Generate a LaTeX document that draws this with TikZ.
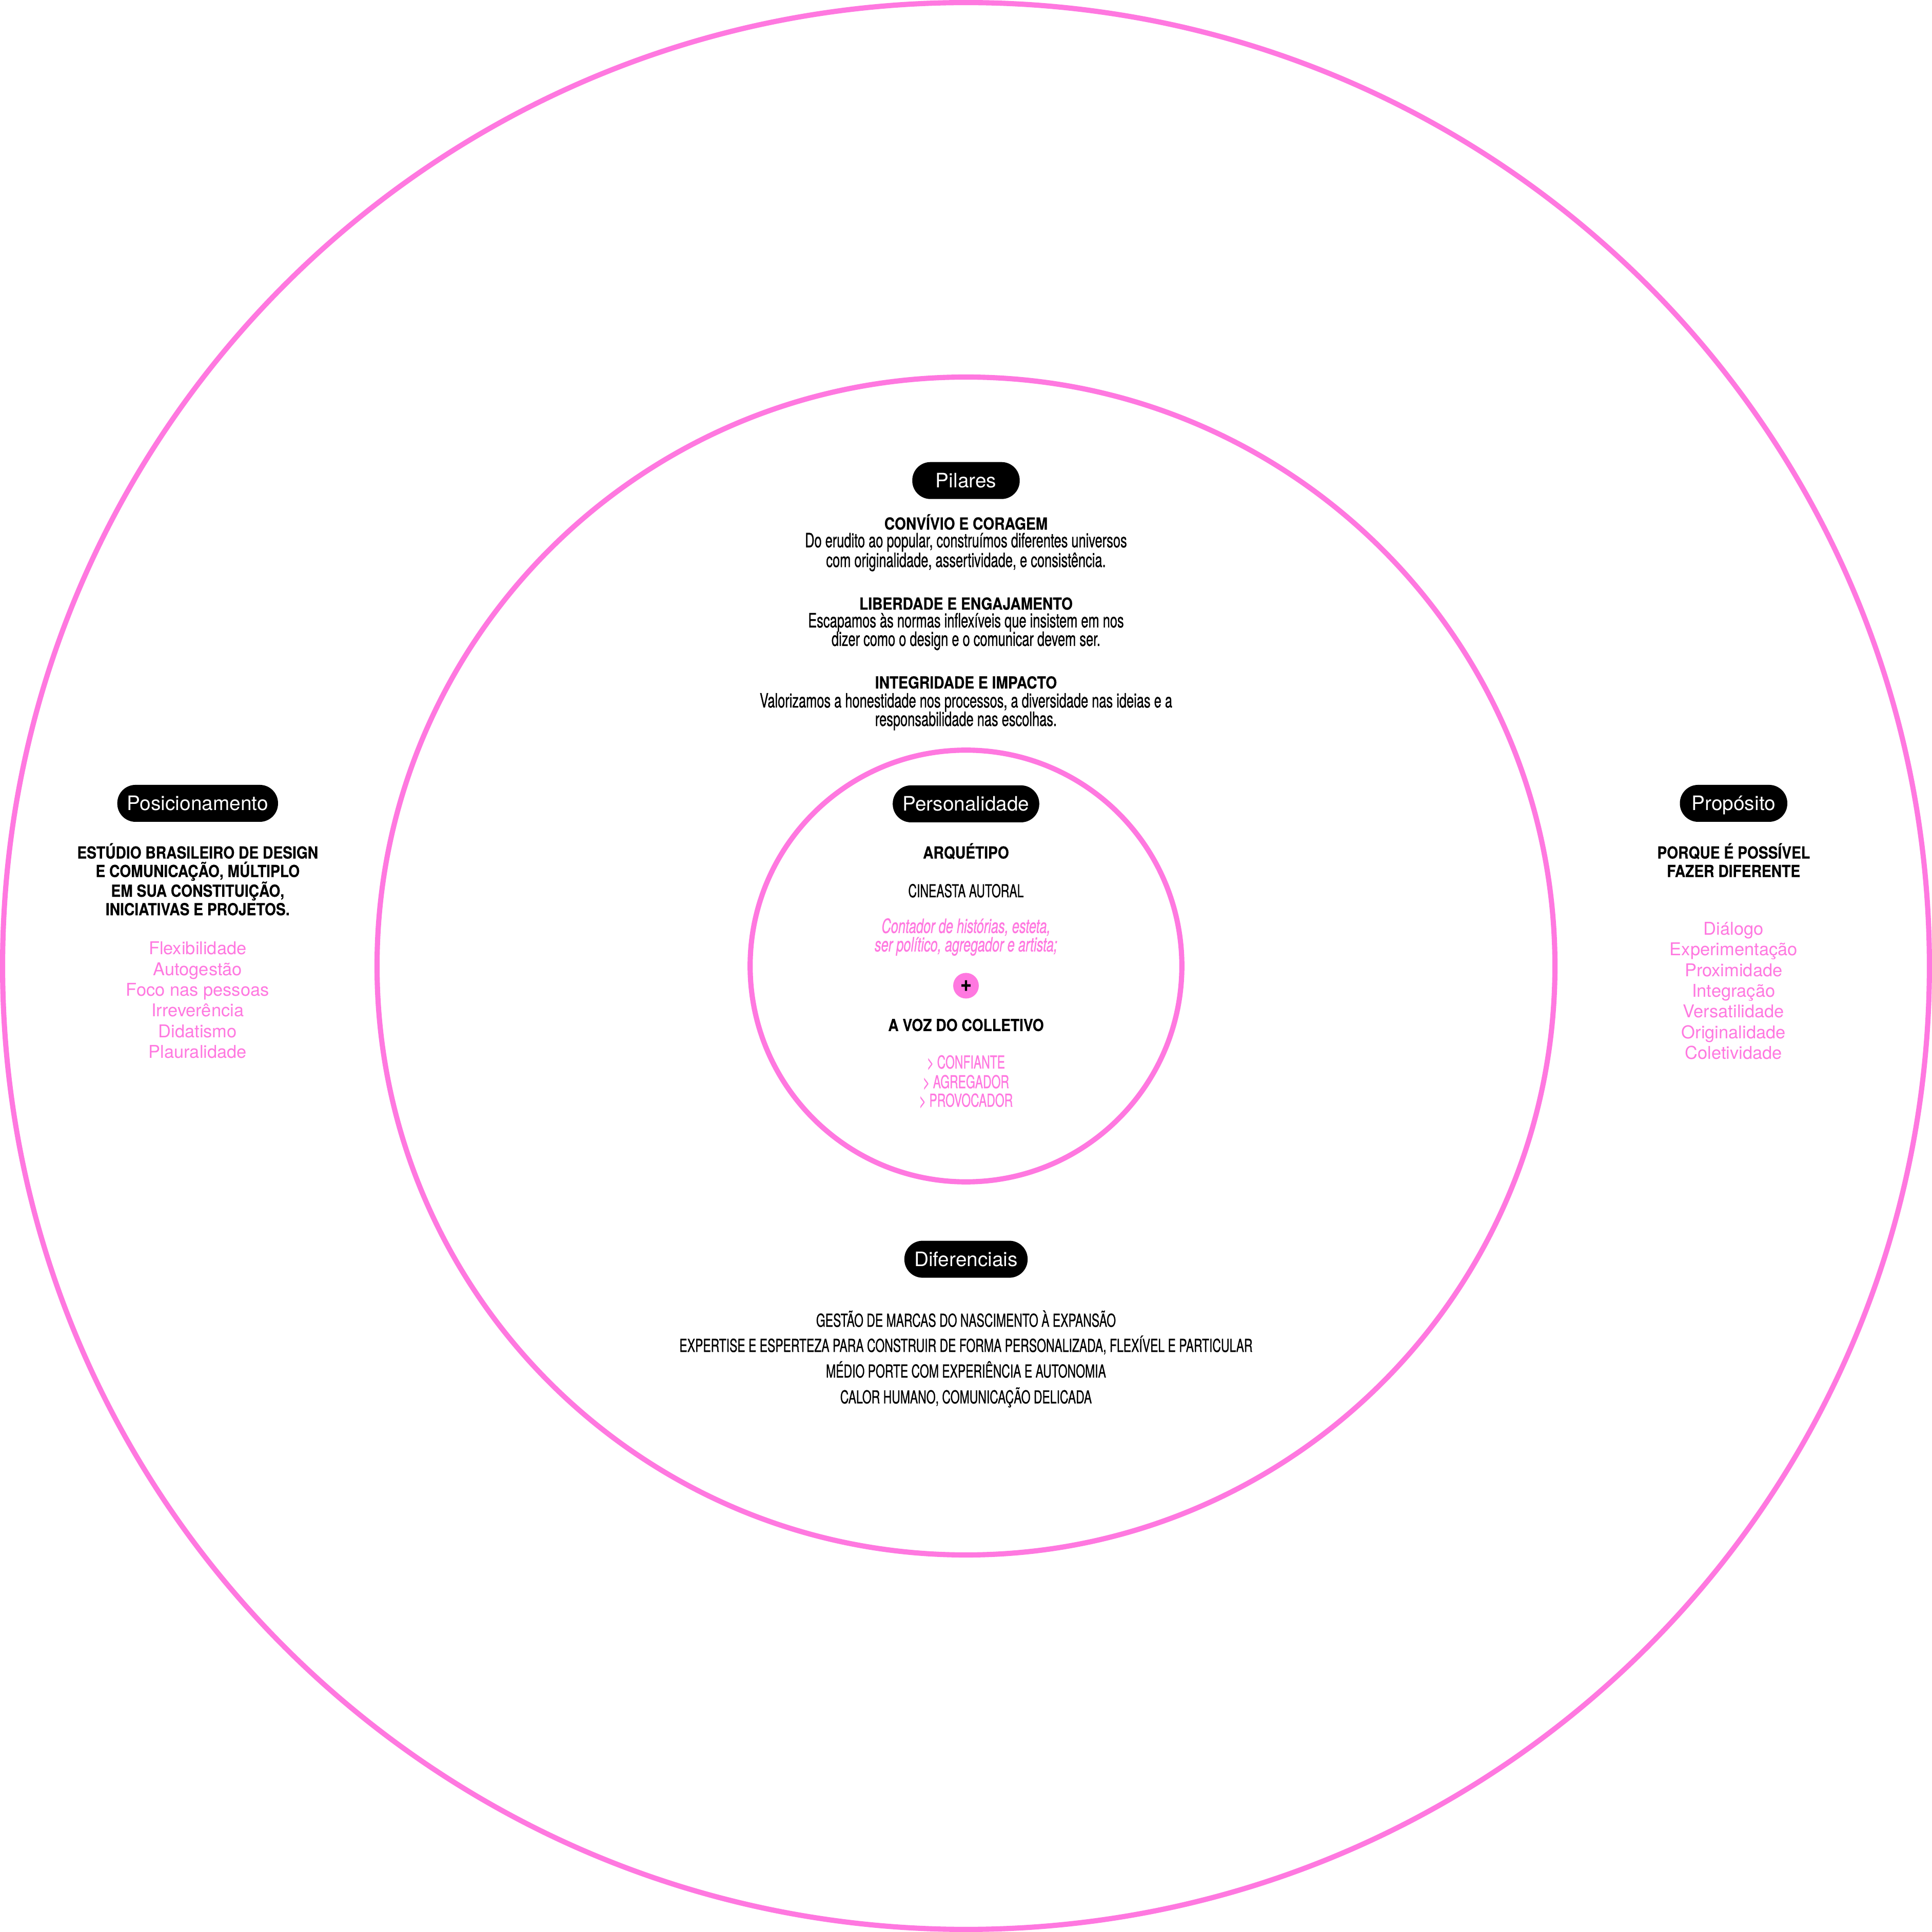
\documentclass[tikz,border=0pt]{standalone}
\usepackage{fontspec}
\setmainfont{TeX Gyre Heros}
\newfontfamily\condfont[FakeStretch=0.66,FakeBold=0.7]{TeX Gyre Heros}
\newfontfamily\headfont[FakeStretch=0.87,FakeBold=0.4]{TeX Gyre Heros}
\usepackage{tikz}
\usetikzlibrary{calc}
\definecolor{rosa}{RGB}{255,120,224}

\begin{document}
\begin{tikzpicture}[
		ring/.style={draw=rosa, line width=3pt},
		pill/.style={fill=black, text=white, rounded corners=0.37cm, minimum height=0.75cm, minimum width=2.18cm, inner xsep=0.2cm, text height=8.3pt, text depth=0pt, font=\fontsize{11.5}{12}\selectfont},
		head/.style={anchor=base, font=\headfont\bfseries\fontsize{9.6}{11}\selectfont},
		body/.style={anchor=base, font=\condfont\fontsize{11.4}{11}\selectfont},
		caps/.style={anchor=base, font=\condfont\fontsize{10.3}{11}\selectfont},
		note/.style={anchor=base, text=rosa, font=\condfont\itshape\fontsize{11.4}{11}\selectfont},
		item/.style={anchor=base, text=rosa, font=\fontsize{10.2}{12}\selectfont},
		plus/.style={circle, fill=rosa, minimum size=0.52cm, inner sep=0pt, font=\headfont\bfseries\fontsize{13}{13}\selectfont}]
	\fill[white] (-19.6,-19.6) rectangle (19.6,19.6);
	\coordinate (centro) at (0,0);
	\draw[ring] (centro) circle (19.548);
	\draw[ring] (centro) circle (11.95);
	\draw[ring] (centro) circle (4.38);

	\node[pill] (pilares) at (0,9.85) {Pilares};
	\node[head] (convivio) at (0,8.855) {CONVÍVIO E CORAGEM};
	\node[body] (convivioA) at (0,8.495) {Do erudito ao popular, construímos diferentes universos};
	\node[body] (convivioB) at (0,8.095) {com originalidade, assertividade, e consistência.};
	\node[head] (liberdade) at (0,7.23) {LIBERDADE E ENGAJAMENTO};
	\node[body] (liberdadeA) at (0,6.87) {Escapamos às normas inflexíveis que insistem em nos};
	\node[body] (liberdadeB) at (0,6.495) {dizer como o design e o comunicar devem ser.};
	\node[head] (integridade) at (0,5.63) {INTEGRIDADE E IMPACTO};
	\node[body] (integridadeA) at (0,5.245) {Valorizamos a honestidade nos processos, a diversidade nas ideias e a};
	\node[body] (integridadeB) at (0,4.87) {responsabilidade nas escolhas.};

	\node[pill] (personalidade) at (0,3.29) {Personalidade};
	\node[head] (arquetipo) at (0,2.18) {ARQUÉTIPO};
	\node[caps] (cineasta) at (0,1.395) {CINEASTA AUTORAL};
	\node[note] (contador) at (0,0.67) {Contador de histórias, esteta,};
	\node[note] (politico) at (0,0.295) {ser político, agregador e artista;};
	\node[plus] (mais) at (0,-0.4) {+};
	\node[head] (voz) at (0,-1.32) {A VOZ DO COLLETIVO};
	\node[caps, text=rosa] (confiante) at (0,-2.08) {> CONFIANTE};
	\node[caps, text=rosa] (agregador) at (0,-2.48) {> AGREGADOR};
	\node[caps, text=rosa] (provocador) at (0,-2.855) {> PROVOCADOR};

	\node[pill] (posicionamento) at (-15.59,3.3) {Posicionamento};
	\node[head] (estudio) at (-15.59,2.18) {ESTÚDIO BRASILEIRO DE DESIGN};
	\node[head] (comunicacao) at (-15.59,1.805) {E COMUNICAÇÃO, MÚLTIPLO};
	\node[head] (constituicao) at (-15.59,1.405) {EM SUA CONSTITUIÇÃO,};
	\node[head] (iniciativas) at (-15.59,1.03) {INICIATIVAS E PROJETOS.};
	\node[item] (flexibilidade) at (-15.59,0.23) {Flexibilidade};
	\node[item] (autogestao) at (-15.59,-0.19) {Autogestão};
	\node[item] (foco) at (-15.59,-0.61) {Foco nas pessoas};
	\node[item] (irreverencia) at (-15.59,-1.03) {Irreverência};
	\node[item] (didatismo) at (-15.59,-1.45) {Didatismo};
	\node[item] (plauralidade) at (-15.59,-1.87) {Plauralidade};

	\node[pill] (proposito) at (15.575,3.3) {Propósito};
	\node[head] (porque) at (15.575,2.18) {PORQUE É POSSÍVEL};
	\node[head] (fazer) at (15.575,1.805) {FAZER DIFERENTE};
	\node[item] (dialogo) at (15.575,0.63) {Diálogo};
	\node[item] (experimentacao) at (15.575,0.21) {Experimentação};
	\node[item] (proximidade) at (15.575,-0.21) {Proximidade};
	\node[item] (integracao) at (15.575,-0.63) {Integração};
	\node[item] (versatilidade) at (15.575,-1.05) {Versatilidade};
	\node[item] (originalidade) at (15.575,-1.47) {Originalidade};
	\node[item] (coletividade) at (15.575,-1.89) {Coletividade};

	\node[pill] (diferenciais) at (0,-5.95) {Diferenciais};
	\node[caps] (gestao) at (0,-7.32) {GESTÃO DE MARCAS DO NASCIMENTO À EXPANSÃO};
	\node[caps] (expertise) at (0,-7.83) {EXPERTISE E ESPERTEZA PARA CONSTRUIR DE FORMA PERSONALIZADA, FLEXÍVEL E PARTICULAR};
	\node[caps] (medio) at (0,-8.35) {MÉDIO PORTE COM EXPERIÊNCIA E AUTONOMIA};
	\node[caps] (calor) at (0,-8.875) {CALOR HUMANO, COMUNICAÇÃO DELICADA};
\end{tikzpicture}
\end{document}
